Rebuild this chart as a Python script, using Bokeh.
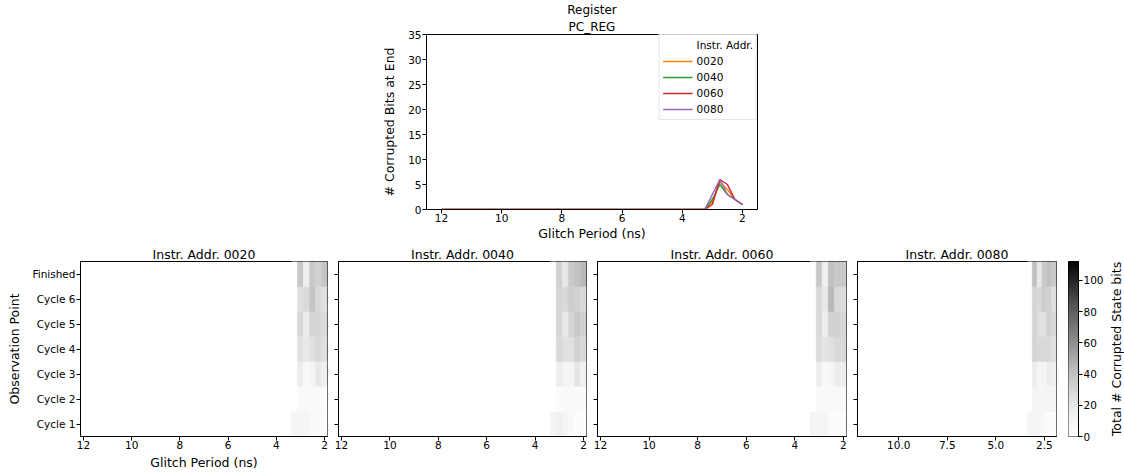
import numpy as np
from bokeh.plotting import figure
from bokeh.models import (Range1d, LinearColorMapper, Title, Legend, LegendItem,
                          FixedTicker, PrintfTickFormatter, Spacer, ColumnDataSource,
                          CustomJSTickFormatter)
from bokeh.layouts import row, column
from bokeh.embed import file_html
from bokeh.resources import INLINE
from bokeh.palettes import Greys9
from bokeh.transform import transform

FONT = "DejaVu Sans"

# ---------------- data ----------------
addresses = ["0020", "0040", "0060", "0080"]
line_colors = ["#ff7f0e", "#2ca02c", "#d62728", "#9467bd"]

# top chart: corrupted bits at end vs glitch period (zero for all periods >= 3.25 ns)
line_periods = [12.0, 3.5, 3.25, 3.0, 2.75, 2.5, 2.25, 2.0]
bits_0020 = [0, 0, 0, 1.5, 5.5, 4, 2, 1]
bits_0040 = [0, 0, 0, 2, 5, 3, 2, 1]
bits_0060 = [0, 0, 0, 1, 6, 5, 2, 1]
bits_0080 = [0, 0, 0, 3, 6, 3, 2, 1]
line_values = [bits_0020, bits_0040, bits_0060, bits_0080]

# heatmaps: total corrupted state bits (rows = observation points, cols = periods)
obs_points = ["Cycle 1", "Cycle 2", "Cycle 3", "Cycle 4", "Cycle 5", "Cycle 6", "Finished"]
heat_periods = [3.25, 3.0, 2.75, 2.5, 2.25, 2.0]
heat_0020 = [[10, 10, 10, 6, 5, 3],
             [0, 5, 6, 6, 5, 3],
             [0, 16, 6, 10, 19, 14],
             [0, 24, 19, 24, 28, 24],
             [0, 28, 16, 30, 30, 28],
             [0, 24, 28, 38, 28, 24],
             [0, 36, 14, 36, 32, 38]]
heat_0040 = [[10, 14, 10, 6, 3, 3],
             [0, 5, 6, 6, 5, 5],
             [0, 16, 10, 10, 21, 14],
             [0, 28, 24, 24, 32, 28],
             [0, 30, 19, 30, 36, 32],
             [0, 30, 28, 34, 32, 28],
             [0, 32, 19, 36, 40, 44]]
heat_0060 = [[10, 10, 10, 5, 3, 3],
             [0, 6, 6, 6, 6, 6],
             [0, 16, 6, 10, 16, 16],
             [0, 26, 21, 24, 28, 28],
             [0, 28, 16, 32, 32, 30],
             [0, 28, 19, 44, 28, 26],
             [0, 36, 14, 40, 36, 36]]
heat_0080 = [[10, 10, 10, 6, 3, 3],
             [0, 10, 10, 10, 10, 10],
             [0, 16, 10, 10, 16, 14],
             [0, 30, 28, 28, 28, 24],
             [0, 30, 24, 24, 32, 28],
             [0, 30, 28, 34, 32, 24],
             [0, 40, 19, 36, 40, 36]]
heat_grids = [heat_0020, heat_0040, heat_0060, heat_0080]
color_max = 112
colorbar_ticks = [0, 20, 40, 60, 80, 100]
colorbar_title = "Total # Corrupted State bits"

# ---------------- palette (matplotlib-like Greys) ----------------
anchors = list(reversed(Greys9))  # white -> black
anc_vals = np.array([[int(c[1:3], 16), int(c[3:5], 16), int(c[5:7], 16)] for c in anchors], float)
pos = np.linspace(0, 1, len(anchors))
t = np.linspace(0, 1, 256)
palette = []
for tt in t:
    rgb = [np.interp(tt, pos, anc_vals[:, k]) for k in range(3)]
    palette.append("#%02x%02x%02x" % tuple(int(round(v)) for v in rgb))
mapper = LinearColorMapper(palette=palette, low=0, high=color_max)


def style_axes(p, tick_size="10.5px", label_size="12.5px"):
    for ax in p.axis:
        ax.major_label_text_font = FONT
        ax.major_label_text_font_size = tick_size
        ax.major_label_text_color = "black"
        ax.axis_label_text_font = FONT
        ax.axis_label_text_font_size = label_size
        ax.axis_label_text_font_style = "normal"
        ax.axis_label_text_color = "black"
        ax.major_tick_out = 4
        ax.major_tick_in = 0
        ax.minor_tick_out = 0
        ax.minor_tick_in = 0
        ax.axis_line_color = "black"
        ax.major_tick_line_color = "black"
        ax.minor_tick_line_color = "black"
        ax.major_label_standoff = 1
    p.xgrid.visible = False
    p.ygrid.visible = False
    p.outline_line_color = "black"
    p.outline_line_alpha = 1
    p.background_fill_color = "white"
    p.border_fill_color = "white"


# ---------------- top line chart ----------------
top = figure(frame_width=331, frame_height=175, x_range=Range1d(12.5, 1.5), y_range=Range1d(0, 35),
             min_border_left=56, min_border_right=5, min_border_top=34, min_border_bottom=35,
             output_backend="svg", toolbar_location=None, title=None)
style_axes(top)
top.xaxis.ticker = FixedTicker(ticks=[12, 10, 8, 6, 4, 2])
top.yaxis.ticker = FixedTicker(ticks=[0, 5, 10, 15, 20, 25, 30, 35])
top.xaxis.axis_label = "Glitch Period (ns)"
top.yaxis.axis_label = "# Corrupted Bits at End"
top.xaxis.major_label_standoff = 0
top.xaxis.axis_label_standoff = 1
top.yaxis.axis_label_standoff = 8
top.add_layout(Title(text="PC_REG", align="center", text_font=FONT, text_font_size="12px",
                     text_font_style="normal", text_color="black", standoff=2), "above")
top.add_layout(Title(text="Register", align="center", text_font=FONT, text_font_size="12px",
                     text_font_style="normal", text_color="black", standoff=0), "above")

dummy = top.line(x=[], y=[], line_alpha=0)
items = [LegendItem(label="Instr. Addr.", renderers=[dummy])]
for addr, col, vals in zip(addresses, line_colors, line_values):
    r = top.line(x=line_periods, y=vals, line_color=col, line_width=1.5)
    items.append(LegendItem(label=addr, renderers=[r]))
legend = Legend(items=items, location="top_right", margin=0, padding=3, spacing=2,
                label_height=14, glyph_height=14, glyph_width=30, label_standoff=4,
                border_line_color="#cccccc", background_fill_alpha=0.8,
                label_text_font=FONT, label_text_font_size="10.5px", label_text_color="black")
top.add_layout(legend)

# ---------------- heatmaps ----------------
row_centers = [i + 0.5 for i in range(len(obs_points))]


def heat_fig(addr, grid, left_border, frame_w, first, ticks, fmt=None):
    p = figure(frame_width=frame_w, frame_height=175, x_range=Range1d(12.125, 1.875),
               y_range=Range1d(0, len(obs_points)), min_border_left=left_border, min_border_right=3,
               min_border_top=16, min_border_bottom=37, output_backend="svg", toolbar_location=None,
               title="Instr. Addr. " + addr)
    xs, ys, vs = [], [], []
    for i, obs in enumerate(obs_points):
        for j, per in enumerate(heat_periods):
            xs.append(per)
            ys.append(row_centers[i])
            vs.append(grid[i][j])
    src = ColumnDataSource(dict(x=xs, y=ys, v=vs))
    p.rect(x="x", y="y", width=0.25, height=1, source=src,
           fill_color=transform("v", mapper), line_color=transform("v", mapper), line_width=0.5)
    style_axes(p)
    p.title.align = "center"
    p.title.text_font = FONT
    p.title.text_font_size = "12.5px"
    p.title.text_font_style = "normal"
    p.title.text_color = "black"
    p.title.standoff = 0
    p.xaxis.ticker = FixedTicker(ticks=ticks)
    p.xaxis.major_label_standoff = 0
    if fmt:
        p.xaxis.formatter = PrintfTickFormatter(format=fmt)
    if first:
        p.yaxis.ticker = FixedTicker(ticks=row_centers)
        p.yaxis.formatter = CustomJSTickFormatter(args=dict(names=obs_points),
                                                  code="return names[Math.floor(tick)];")
        p.xaxis.axis_label = "Glitch Period (ns)"
        p.yaxis.axis_label = "Observation Point"
        p.xaxis.axis_label_standoff = 3
        p.yaxis.axis_label_standoff = 7
    else:
        p.yaxis.ticker = FixedTicker(ticks=[], minor_ticks=row_centers)
        p.yaxis.minor_tick_out = 4
    return p


h1 = heat_fig(addresses[0], heat_grids[0], 80, 247, True, [12, 10, 8, 6, 4, 2])
h2 = heat_fig(addresses[1], heat_grids[1], 8, 248, False, [12, 10, 8, 6, 4, 2])
h3 = heat_fig(addresses[2], heat_grids[2], 8, 249, False, [12, 10, 8, 6, 4, 2])
h4 = heat_fig(addresses[3], heat_grids[3], 8, 199, False, [10, 7.5, 5, 2.5], "%.1f")

# ---------------- colorbar ----------------
cb = figure(frame_width=10, frame_height=175, x_range=Range1d(0, 1), y_range=Range1d(0, color_max),
            min_border_left=9, min_border_right=22, min_border_top=16, min_border_bottom=37,
            x_axis_location=None, y_axis_location="right",
            output_backend="svg", toolbar_location=None)
edges = np.linspace(0, color_max, 257)
cb.quad(left=0, right=1, bottom=edges[:-1], top=edges[1:], fill_color=palette, line_color=palette,
        line_width=0.5)
style_axes(cb)
cb.yaxis.ticker = FixedTicker(ticks=colorbar_ticks)

# colorbar label: a vertical (bottom-to-top) title of a narrow companion figure
lab = figure(frame_width=1, frame_height=175, x_range=Range1d(0, 1), y_range=Range1d(0, 1),
             min_border_left=12, min_border_right=0, min_border_top=16, min_border_bottom=37,
             x_axis_location=None, y_axis_location=None, title_location="left",
             title=colorbar_title, output_backend="svg", toolbar_location=None)
lab.title.align = "center"
lab.title.text_font = FONT
lab.title.text_font_size = "12.5px"
lab.title.text_font_style = "normal"
lab.title.text_color = "black"
lab.title.standoff = 0
lab.outline_line_color = None
lab.xgrid.visible = False
lab.ygrid.visible = False
lab.background_fill_color = "white"
lab.border_fill_color = "white"

layout = column(row(Spacer(width=370, height=244), top), row(h1, h2, h3, h4, cb, lab))
open("out.html", "w").write(file_html(layout, INLINE))
